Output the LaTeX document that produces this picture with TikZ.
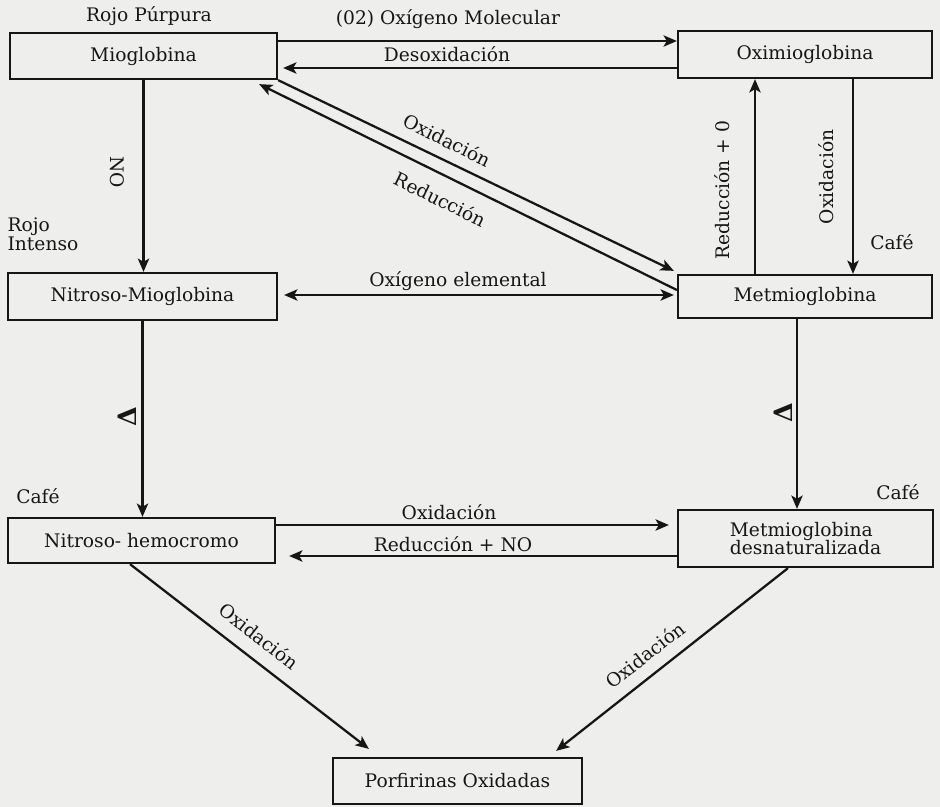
\documentclass[tikz,border=0pt]{standalone}
\usepackage{fontspec}
\setmainfont{DejaVu Serif}
\usetikzlibrary{arrows.meta,calc}
\definecolor{paper}{RGB}{238,238,236}
\definecolor{ink}{RGB}{22,22,22}
\begin{document}
\begin{tikzpicture}[x=0.75pt,y=-0.75pt,
  font=\fontsize{14}{16.5}\selectfont,
  box/.style={draw=ink, line width=1.7pt, rectangle, inner sep=0pt, align=center, text=ink},
  arr/.style={draw=ink, line width=1.7pt, -{Stealth[length=10pt,width=8.5pt,inset=2.5pt]}},
  darr/.style={draw=ink, line width=1.7pt, {Stealth[length=10pt,width=8.5pt,inset=2.5pt]}-{Stealth[length=10pt,width=8.5pt,inset=2.5pt]}},
  lbl/.style={text=ink, inner sep=1pt},
  heat/.style={text=ink, inner sep=0pt, rotate=90, font=\fontsize{19}{21}\selectfont\bfseries}]
\fill[paper] (0,0) rectangle (940,807);
\useasboundingbox (0,0) rectangle (940,807);

% boxes
\node[box, minimum width=200.25pt, minimum height=34.5pt] (mio) at (143.5,56) {Mioglobina};
\node[box, minimum width=190.5pt, minimum height=35.25pt] (oxi) at (805,54.5) {Oximioglobina};
\node[box, minimum width=201.75pt, minimum height=35.25pt] (nmio) at (142.5,296.5) {Nitroso-Mioglobina};
\node[box, minimum width=190.5pt, minimum height=32.25pt] (met) at (805,296.5) {Metmioglobina};
\node[box, minimum width=200.25pt, minimum height=33.75pt] (nhem) at (141.5,540.5) {Nitroso- hemocromo};
\node[box, minimum width=191.25pt, minimum height=42.75pt, align=left] (mdes) at (805.5,538.5) {Metmioglobina\\[-3pt]desnaturalizada};
\node[box, minimum width=186.75pt, minimum height=34.5pt] (porf) at (457.5,781) {Porfirinas Oxidadas};

% free labels
\node[lbl] (t1) at (149,16) {Rojo Púrpura};
\node[lbl] (t2) at (448,19) {(02) Oxígeno Molecular};
\node[lbl] (t3) at (447,54) {Desoxidación};
\node[lbl, anchor=west, align=left] (t4) at (6,234) {Rojo\\[-2pt]Intenso};
\node[lbl, rotate=-90] (t5) at (117,172) {NO};
\node[lbl, rotate=-26] (t6) at (447,140) {Oxidación};
\node[lbl, rotate=-26] (t7) at (440,199) {Reducción};
\node[lbl, rotate=90] (t8) at (722,190) {Reducción + 0};
\node[lbl, rotate=90] (t9) at (826,177) {Oxidación};
\node[lbl] (t10) at (892,242) {Café};
\node[lbl] (t11) at (458,281) {Oxígeno elemental};
\node[heat] (h1) at (127,417) {Δ};
\node[heat] (h2) at (783,413) {Δ};
\node[lbl] (t12) at (38,496) {Café};
\node[lbl] (t13) at (898,492) {Café};
\node[lbl] (t14) at (449,512) {Oxidación};
\node[lbl] (t15) at (453,544) {Reducción + NO};
\node[lbl, rotate=-37.9] (t16) at (259,636) {Oxidación};
\node[lbl, rotate=38.1] (t17) at (645,655) {Oxidación};

% connectors
\draw[arr] (mio.east |- 0,41) -- (oxi.west |- 0,41);
\draw[arr] (oxi.west |- 0,68) -- ($(mio.east |- 0,68)+(5,0)$);
\draw[arr] (mio.south) -- (mio.south |- nmio.north);
\draw[arr] (mio.south east) -- ($(met.north west)+(-3,-3)$);
\draw[arr] ($(met.west)+(0,-6.5)$) -- ($(mio.south east)+(-19,4)$);
\coordinate (u1) at ($(met.north)+(-50,0)$);
\draw[arr] (u1) -- (u1 |- oxi.south);
\coordinate (d1) at ($(oxi.south)+(48,0)$);
\draw[arr] (d1) -- (d1 |- met.north);
\draw[darr] ($(nmio.east |- 0,295)+(6,0)$) -- ($(met.west |- 0,295)+(-3,0)$);
\draw[arr] (nmio.south) -- (nmio.south |- nhem.north);
\coordinate (d2) at ($(met.south)+(-8,0)$);
\draw[arr] (d2) -- (d2 |- mdes.north);
\draw[arr] (nhem.east |- 0,525) -- ($(mdes.west |- 0,525)+(-8,0)$);
\draw[arr] (mdes.west |- 0,556) -- ($(nhem.east |- 0,556)+(13,0)$);
\draw[arr] ($(nhem.south)+(-11.5,0)$) -- ($(porf.north west)+(37,-8)$);
\draw[arr] ($(mdes.south)+(-17.5,0)$) -- ($(porf.north east)+(-27,-6)$);
\end{tikzpicture}
\end{document}
